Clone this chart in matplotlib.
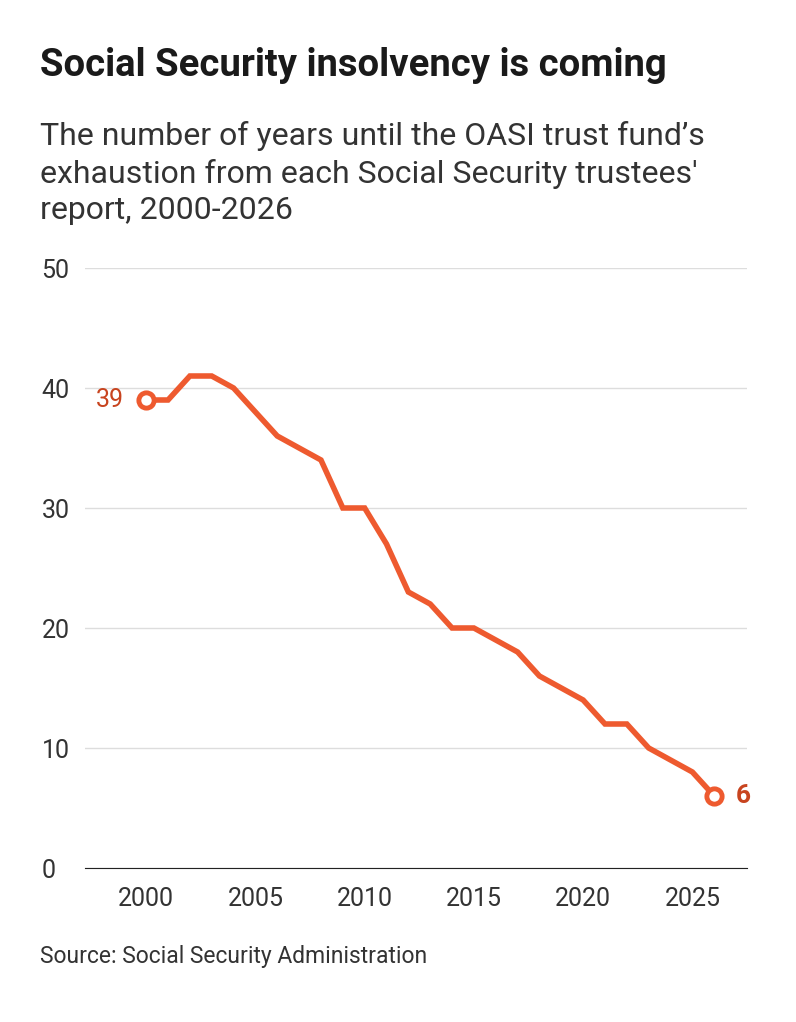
import matplotlib
matplotlib.use("Agg")
import matplotlib.pyplot as plt

plt.rcParams['font.family'] = ['Roboto', 'DejaVu Sans']

years = list(range(2000, 2027))
years_left = [39, 39, 41, 41, 40, 38, 36, 35, 34, 30, 30, 27, 23, 22, 20, 20,
              19, 18, 16, 15, 14, 12, 12, 10, 9, 8, 6]
yticks = [0, 10, 20, 30, 40, 50]
xticks = [2000, 2005, 2010, 2015, 2020, 2025]

line_col = '#ee5a2f'
lab_col = '#c8441f'

fig = plt.figure(figsize=(7.96, 10.22), dpi=100)
ax = fig.add_axes([85/796, 1-868/1022, (747-85)/796, (868-268)/1022])

ax.plot(years, years_left, color=line_col, lw=4, solid_joinstyle='miter', zorder=3)
for i in (0, -1):
    ax.plot(years[i], years_left[i], 'o', ms=11, mfc='white', mec=line_col, mew=3.5, zorder=4)
ax.text(years[0] - 1, years_left[0], str(years_left[0]), color=lab_col, fontsize=18,
        ha='right', va='center')
ax.text(years[-1] + 1, years_left[-1], str(years_left[-1]), color=lab_col, fontsize=19,
        fontweight='bold', ha='left', va='center')

ax.set_ylim(0, 50)
ax.set_xlim(1997.2, 2027.5)
ax.set_yticks(yticks)
ax.set_xticks(xticks)
ax.grid(axis='y', color='#dddddd', lw=1)
ax.set_axisbelow(True)
for s in ('top', 'right', 'left'):
    ax.spines[s].set_visible(False)
ax.spines['bottom'].set_color('#222222')
ax.tick_params(axis='y', length=0, labelsize=18, colors='#333333', pad=-2)
ax.tick_params(axis='x', length=0, labelsize=18, colors='#333333', pad=14)
for lab in ax.get_yticklabels():
    lab.set_horizontalalignment('left')
    lab.set_x(-0.07)

fig.text(40/796, 1-65/1022, 'Social Security insolvency is coming', fontsize=27.5,
         fontweight='bold', color='#1a1a1a', va='center')
fig.text(40/796, 1-173/1022,
         "The number of years until the OASI trust fund’s\nexhaustion from each Social Security trustees'\nreport, 2000-2026",
         fontsize=23, color='#333333', va='center', linespacing=1.3)
fig.text(40/796, 1-956/1022, 'Source: Social Security Administration', fontsize=16.5,
         color='#333333', va='center')

fig.savefig('out.png', dpi=100)
